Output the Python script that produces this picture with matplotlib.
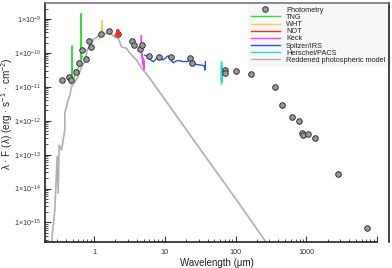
import matplotlib
matplotlib.use("Agg")
import matplotlib.pyplot as plt
from matplotlib.ticker import LogLocator, NullFormatter, FixedLocator
from matplotlib.lines import Line2D

plt.rcParams['font.family'] = ['Liberation Sans', 'DejaVu Sans']
plt.rcParams['mathtext.fontset'] = 'custom'
plt.rcParams['mathtext.rm'] = 'Liberation Sans'
plt.rcParams['mathtext.it'] = 'Liberation Sans:italic'
plt.rcParams['mathtext.bf'] = 'Liberation Sans:bold'

# ---------------- data ----------------
phot_wl = [0.355, 0.439, 0.473, 0.560, 0.612, 0.677, 0.763, 0.859, 0.895, 1.24, 1.64, 2.16,
           3.39, 3.61, 4.50, 4.69, 5.89, 8.13, 12.1, 22.5, 24.4, 71.1, 71.1, 101.6, 162.6,
           355, 454, 629, 782, 862, 900, 1066, 1330, 2754, 7150]
phot_flux = [1.58e-11, 1.88e-11, 1.58e-11, 2.79e-11, 4.93e-11, 1.18e-10, 6.5e-11, 2.2e-10, 1.49e-10,
             3.57e-10, 4.34e-10, 3.57e-10, 2.29e-10, 1.65e-10, 1.29e-10, 1.71e-10, 8.1e-11, 7.6e-11,
             7.6e-11, 7.0e-11, 5.14e-11, 3.13e-11, 2.61e-11, 2.86e-11, 2.42e-11, 9.66e-12, 2.96e-12,
             1.26e-12, 9.8e-13, 4.4e-13, 3.73e-13, 3.92e-13, 3.05e-13, 2.74e-14, 6.7e-16]

tng_wl = [0.47, 0.48, 0.485, 0.486, 0.487, 0.49, 0.50, 0.52, 0.55, 0.58, 0.60, 0.62, 0.64,
          0.65, 0.655, 0.656, 0.657, 0.66, 0.67, 0.68]
tng_flux = [1.2e-11, 1.35e-11, 1.5e-11, 1.6e-10, 1.6e-11, 1.5e-11, 1.6e-11, 1.9e-11, 2.4e-11,
            3.0e-11, 3.8e-11, 4.6e-11, 5.5e-11, 6e-11, 7e-11, 1.45e-9, 7e-11, 6.5e-11, 7e-11, 8e-11]

wht_wl = [1.17, 1.19, 1.21, 1.23, 1.25, 1.27, 1.275, 1.282, 1.29, 1.30, 1.32, 1.34]
wht_flux = [2.4e-10, 2.8e-10, 3.0e-10, 3.3e-10, 3.5e-10, 3.7e-10, 4.5e-10, 9e-10, 4.2e-10,
            4.0e-10, 4.3e-10, 4.1e-10]

not_wl = [2.05, 2.10, 2.15, 2.16, 2.166, 2.17, 2.20, 2.25]
not_flux = [3.3e-10, 3.5e-10, 3.6e-10, 3.8e-10, 4.6e-10, 3.7e-10, 3.5e-10, 3.4e-10]

keck_wl = [4.40, 4.45, 4.50, 4.55, 4.60, 4.64, 4.65, 4.66, 4.70, 4.75, 4.80, 4.85, 4.90,
           4.95, 5.00, 5.05, 5.10]
keck_flux = [1.5e-10, 1.1e-10, 1.6e-10, 1.2e-10, 1.4e-10, 1.6e-10, 3.3e-10, 1.5e-10, 1.0e-10,
             7e-11, 9e-11, 5e-11, 7e-11, 4e-11, 5e-11, 3.2e-11, 6e-11]

irs_wl = [5.2, 5.5, 5.9, 6.3, 6.8, 7.3, 7.8, 8.3, 8.8, 9.4, 10.0, 10.6, 11.1, 11.8, 12.5, 13.1,
          13.8, 14.5, 15.5, 16.3, 17.5, 18.5, 19.5, 20.2, 21.5, 22.5, 23.5, 24.5, 26.5, 28.5,
          31.2, 33.5, 36.0, 37.0, 37.3]
irs_flux = [8.5e-11, 8.1e-11, 7e-11, 6.2e-11, 5.5e-11, 6.2e-11, 7.2e-11, 7.4e-11, 6.8e-11,
            6.2e-11, 6.8e-11, 7.6e-11, 8.1e-11, 7.0e-11, 5.6e-11, 5.1e-11, 5.5e-11, 5.8e-11,
            5.9e-11, 5.9e-11, 5.6e-11, 5.5e-11, 5.6e-11, 5.5e-11, 5.8e-11, 6.3e-11, 6.0e-11,
            5.3e-11, 4.7e-11, 4.5e-11, 4.4e-11, 4.3e-11, 4.1e-11, 3.1e-11, 5.5e-11]

pacs_wl = [62.9, 63.0, 63.1, 63.2, 63.3, 63.4]
pacs_flux = [1.2e-11, 4.5e-11, 1.5e-11, 5.5e-11, 1.3e-11, 3e-11]

model_wl = [0.25, 0.263, 0.278, 0.300, 0.310, 0.320, 0.346, 0.365, 0.385, 0.386, 0.43, 0.454,
            0.48, 0.534, 0.594, 0.664, 0.739, 0.796, 0.968, 1.20, 1.50, 1.76, 1.96, 2.18, 2.44,
            2.87, 3.20, 3.56, 3.97, 4.68, 5.50, 10.0, 31.2, 100.0, 300.0]
model_flux = [2.7e-16, 7.4e-16, 2.3e-15, 8.7e-14, 7.3e-15, 1.9e-13, 1.37e-13, 2.7e-13, 5.3e-13,
              1.7e-12, 4.1e-12, 5.7e-12, 1.0e-11, 1.4e-11, 2.0e-11, 3.9e-11, 5.5e-11, 1.23e-10,
              2.4e-10, 3.4e-10, 3.8e-10, 3.5e-10, 2.9e-10, 2.7e-10, 1.5e-10, 1.37e-10, 9.8e-11,
              7.7e-11, 6.2e-11, 3.5e-11, 2.4e-11, 4.2e-12, 1.48e-13, 5.0e-15, 1.9e-16]

xtick_vals = [1, 10, 100, 1000, 10000]
xtick_labels = ['1', '10', '100', '1000', '']
ytick_exps = [-15, -14, -13, -12, -11, -10, -9]

# ---------------- plot ----------------
fig = plt.figure(figsize=(3.92, 2.68), dpi=100)
ax = fig.add_axes([0.114, 0.098, 0.878, 0.891])

c_model = '#b0b0b0'
ax.plot(model_wl, model_flux, color=c_model, lw=1.2, zorder=1)
ax.plot(tng_wl, tng_flux, color='#33dd33', lw=1.0, zorder=2)
ax.plot(wht_wl, wht_flux, color='#ffcc44', lw=1.0, zorder=2)
ax.plot(keck_wl, keck_flux, color='#ee44ee', lw=1.0, zorder=2)
ax.plot(irs_wl, irs_flux, color='#2255dd', lw=1.0, zorder=2)
ax.plot(pacs_wl, pacs_flux, color='#22dddd', lw=1.0, zorder=2)
ax.plot(phot_wl, phot_flux, ls='none', marker='o', ms=4.0, mfc='#999999', mec='#333333',
        mew=0.7, zorder=3)
ax.plot(not_wl, not_flux, color='#ee3322', lw=2.2, zorder=4)

ax.set_xscale('log')
ax.set_yscale('log')
ax.set_xlim(0.2, 1.46e4)
ax.set_ylim(2.7e-16, 2.96e-9)

ax.xaxis.set_major_locator(FixedLocator(xtick_vals))
ax.set_xticklabels(xtick_labels)
ax.xaxis.set_minor_locator(LogLocator(base=10, subs=range(2, 10), numticks=20))
ax.xaxis.set_minor_formatter(NullFormatter())

yt = [10.0 ** e for e in ytick_exps]
ax.yaxis.set_major_locator(FixedLocator(yt))
ax.set_yticklabels([r'$1{\times}10^{%d}$' % e for e in ytick_exps])
ax.yaxis.set_minor_locator(LogLocator(base=10, subs=range(2, 10), numticks=20))
ax.yaxis.set_minor_formatter(NullFormatter())

ax.tick_params(which='both', direction='in', top=False, right=False, labelsize=5.2,
               colors='#333333')
ax.tick_params(which='major', length=4, width=0.8)
ax.tick_params(which='minor', length=2, width=0.6)
ax.tick_params(axis='x', pad=5)
ax.tick_params(axis='y', pad=3)

for s in ['left', 'bottom', 'right']:
    ax.spines[s].set_color('#222222')
    ax.spines[s].set_linewidth(1.2)
ax.spines['top'].set_color('#777777')
ax.spines['top'].set_linewidth(1.2)
ax.spines['bottom'].set_bounds(0.2, 1e4)

ax.set_xlabel('Wavelength (µm)', fontsize=7, labelpad=2, color='#222222')
ax.set_ylabel(r'λ · F (λ) (erg · s$^{-1}$ · cm$^{-2}$)', fontsize=7.2, color='#222222')
ax.yaxis.set_label_coords(-0.086, 0.537)

handles = [
    Line2D([], [], ls='none', marker='o', ms=4.0, mfc='#999999', mec='#333333', mew=0.7),
    Line2D([], [], color='#33dd33', lw=1.0),
    Line2D([], [], color='#ffcc44', lw=1.0),
    Line2D([], [], color='#ee3322', lw=1.0),
    Line2D([], [], color='#ee44ee', lw=1.0),
    Line2D([], [], color='#2255dd', lw=1.0),
    Line2D([], [], color='#22dddd', lw=1.0),
    Line2D([], [], color=c_model, lw=1.0),
]
labels = ['Photometry', 'TNG', 'WHT', 'NOT', 'Keck', 'Spitzer/IRS', 'Herschel/PACS',
          'Reddened photospheric model']
leg = ax.legend(handles, labels, loc='upper right', fontsize=5.3, frameon=True,
                fancybox=False, framealpha=1, facecolor='#f7f7f7', edgecolor='none',
                handlelength=4.0, handletextpad=0.8, labelspacing=0.0, borderaxespad=0.1,
                borderpad=0.4)
for t in leg.get_texts():
    t.set_color('#222222')

fig.savefig('out.png', dpi=100)
